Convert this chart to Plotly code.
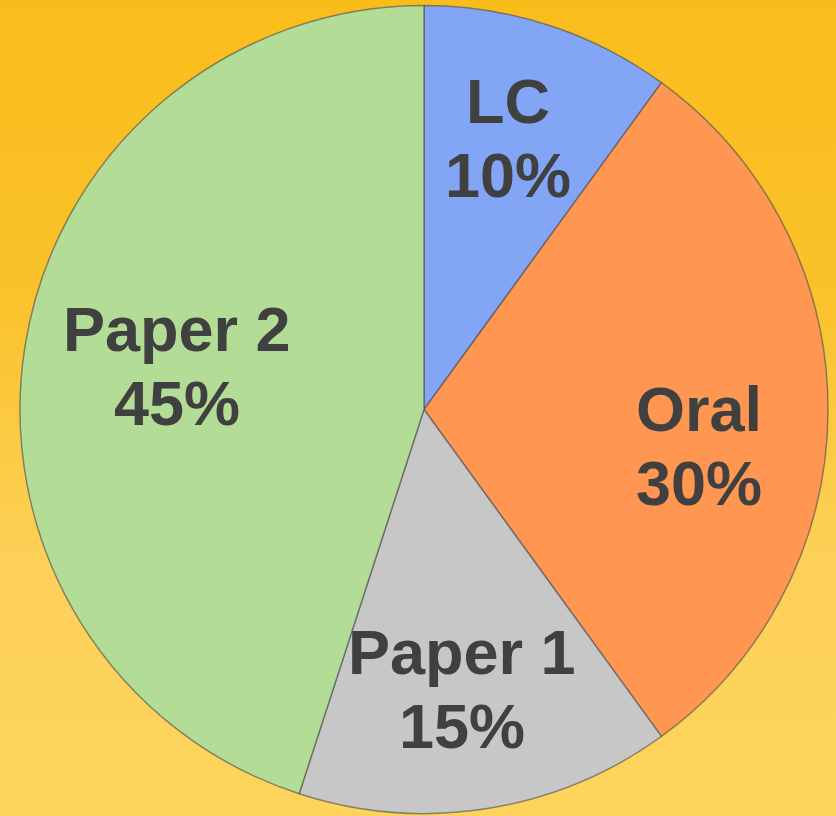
import math
import base64
import plotly.graph_objects as go

labels = ["LC", "Oral", "Paper 1", "Paper 2"]
values = [10, 30, 15, 45]
colors = ["#82a6f5", "#ff9752", "#c7c7c7", "#b3dd97"]

W, H = 836, 816
CX, CY, R = 424, 409.5, 404          # pie centre (px from top-left) and radius
LABEL_R = 0.70                        # label distance as fraction of radius
LINE_GAP = 37                         # half baseline distance in px
# small per-label nudges (px, right / down), purely a layout style
nudges = {"LC": (-3, -3), "Oral": (-8, 36), "Paper 1": (-6, 0), "Paper 2": (32, 1)}

bg_svg = (
    '<svg xmlns="http://www.w3.org/2000/svg" width="836" height="816">'
    '<defs><linearGradient id="g" x1="0" y1="0" x2="0" y2="1">'
    '<stop offset="0" stop-color="#f9bd1b"/>'
    '<stop offset="0.35" stop-color="#fac22a"/>'
    '<stop offset="0.7" stop-color="#fdd159"/>'
    '<stop offset="1" stop-color="#fed45d"/>'
    '</linearGradient></defs>'
    '<rect width="836" height="816" fill="url(#g)"/></svg>'
)
bg_uri = "data:image/svg+xml;base64," + base64.b64encode(bg_svg.encode()).decode()

fig = go.Figure(go.Pie(
    labels=labels,
    values=values,
    sort=False,
    direction="clockwise",
    rotation=0,
    marker=dict(colors=colors, line=dict(color="rgba(85,85,85,0.65)", width=1.5)),
    textinfo="none",
    domain=dict(x=[(CX - R) / W, (CX + R) / W], y=[(H - CY - R) / H, (H - CY + R) / H]),
    showlegend=False,
    hoverinfo="label+percent",
))

font = dict(family="Liberation Sans, Arial, sans-serif", size=63, color="#404040", weight="bold")
total = sum(values)
cum = 0
annotations = []
for lab, v in zip(labels, values):
    mid = (cum + v / 2) / total * 2 * math.pi
    cum += v
    nx, ny = nudges.get(lab, (0, 0))
    px = CX + LABEL_R * R * math.sin(mid) + nx
    py = CY - LABEL_R * R * math.cos(mid) + ny
    pct = f"{round(v / total * 100)}%"
    for txt, shift in ((lab, -LINE_GAP), (pct, LINE_GAP)):
        annotations.append(dict(
            x=px / W, y=1 - (py + shift) / H, xref="paper", yref="paper",
            text=txt, showarrow=False, font=font,
            xanchor="center", yanchor="middle",
        ))

fig.update_layout(
    width=W, height=H,
    margin=dict(l=0, r=0, t=0, b=0),
    paper_bgcolor="#fbc83a",
    plot_bgcolor="#fbc83a",
    annotations=annotations,
    images=[dict(source=bg_uri, xref="paper", yref="paper", x=0, y=1,
                 sizex=1, sizey=1, sizing="stretch", layer="below",
                 xanchor="left", yanchor="top")],
)

fig.write_html("out.html", config={"displayModeBar": False},
               post_script="document.body.style.margin='0';")
